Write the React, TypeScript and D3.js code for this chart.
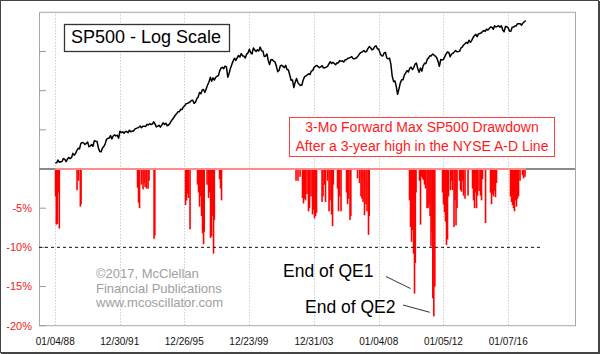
import React from "react";
import * as d3 from "d3";

const W = 600;
const H = 354;
const plot = { left: 39, right: 575, top: 12.3, bottom: 325.7 };
const FONT = "'Liberation Sans', Arial, sans-serif";

// x axis labels (dates of the dotted gridlines)
const xTickDates = [
  "1988-01-04", "1991-12-30", "1995-12-26", "1999-12-23",
  "2003-12-31", "2008-01-04", "2012-01-05", "2016-01-07",
];

// percent axis, labels only shown below zero
const pctTicks = [-20, -15, -10, -5, 0, 5, 10, 15];

// SP500, first value on 01/04/88 then month-end closes (one per month)
const spStart = "1988-01-04";
const sp500 = [
  256,
  257, 268, 259, 261, 262, 274, 272, 262, 272, 279, 274, 278,
  297, 289, 295, 310, 321, 318, 346, 351, 349, 340, 346, 353,
  329, 332, 340, 331, 361, 358, 356, 323, 306, 304, 322, 330,
  344, 367, 375, 375, 390, 371, 388, 395, 388, 392, 375, 417,
  409, 413, 404, 415, 415, 408, 424, 414, 418, 419, 431, 436,
  439, 443, 452, 440, 450, 451, 448, 464, 459, 468, 462, 466,
  482, 467, 446, 451, 457, 444, 458, 475, 463, 472, 454, 459,
  470, 487, 501, 515, 533, 545, 562, 562, 584, 582, 605, 616,
  636, 640, 646, 654, 669, 671, 640, 652, 687, 705, 757, 741,
  786, 791, 757, 801, 848, 885, 954, 899, 947, 915, 955, 970,
  980, 1049, 1102, 1112, 1091, 1134, 1121, 957, 1017, 1099, 1164, 1229,
  1280, 1238, 1286, 1335, 1302, 1373, 1329, 1320, 1283, 1363, 1389, 1469,
  1394, 1366, 1499, 1452, 1421, 1455, 1431, 1518, 1437, 1429, 1315, 1320,
  1366, 1240, 1160, 1249, 1256, 1224, 1211, 1134, 1041, 1060, 1139, 1148,
  1130, 1107, 1147, 1077, 1067, 990, 912, 916, 815, 886, 936, 880,
  856, 841, 848, 917, 964, 975, 990, 1008, 996, 1051, 1058, 1112,
  1131, 1145, 1126, 1107, 1121, 1141, 1102, 1104, 1115, 1130, 1174, 1212,
  1181, 1204, 1181, 1157, 1192, 1191, 1234, 1220, 1229, 1207, 1249, 1248,
  1280, 1281, 1295, 1311, 1270, 1270, 1277, 1304, 1336, 1378, 1401, 1418,
  1438, 1407, 1421, 1482, 1531, 1503, 1455, 1474, 1527, 1549, 1481, 1468,
  1379, 1331, 1323, 1386, 1400, 1280, 1267, 1283, 1166, 969, 896, 903,
  826, 735, 798, 873, 919, 919, 987, 1021, 1057, 1036, 1096, 1115,
  1074, 1104, 1169, 1187, 1089, 1031, 1102, 1049, 1141, 1183, 1181, 1258,
  1286, 1327, 1326, 1364, 1345, 1321, 1292, 1219, 1131, 1253, 1247, 1258,
  1312, 1366, 1408, 1398, 1310, 1362, 1379, 1407, 1441, 1412, 1416, 1426,
  1498, 1515, 1569, 1598, 1631, 1606, 1686, 1633, 1682, 1757, 1806, 1848,
  1783, 1859, 1872, 1884, 1924, 1960, 1931, 2003, 1972, 2018, 2068, 2059,
  1995, 2105, 2068, 2086, 2107, 2063, 2104, 1972, 1920, 2079, 2080, 2044,
  1940, 1932, 2060, 2065, 2097, 2099, 2174, 2171, 2168, 2126, 2199, 2239,
  2279,
];

// drawdown spikes: when (decimal year) and how deep (%)
const ddYears = [
  1988.022, 1988.072, 1988.134, 1988.195, 1988.257,
  1989.352, 1989.444, 1989.556, 1989.599,
  1993.092, 1993.154, 1993.216, 1993.34, 1993.433, 1993.494, 1993.556, 1993.649, 1993.742, 1993.803,
  1994.113, 1994.162,
  1996.06, 1996.122, 1996.184, 1996.246, 1996.339,
  1996.802, 1996.864, 1996.926, 1996.988, 1997.05, 1997.111, 1997.173, 1997.216,
  1997.39, 1997.482, 1997.544, 1997.606, 1997.668, 1997.73, 1997.791, 1997.841,
  1998.163, 1998.224, 1998.286,
  2002.893, 2003.016, 2003.14, 2003.294, 2003.356, 2003.418, 2003.48, 2003.573, 2003.665, 2003.727,
  2003.82, 2003.913, 2003.974, 2004.036, 2004.098, 2004.16,
  2004.5, 2004.562, 2004.655, 2004.716, 2004.84, 2004.933, 2004.995, 2005.087, 2005.149, 2005.199,
  2005.458, 2005.52, 2005.582, 2005.675,
  2006.015, 2006.077, 2006.139, 2006.231, 2006.281,
  2006.695, 2006.819, 2006.911, 2006.973, 2007.035, 2007.128, 2007.221, 2007.283, 2007.375, 2007.419,
  2009.91, 2009.972, 2010.034, 2010.096, 2010.158, 2010.219, 2010.269, 2010.312,
  2010.529, 2010.59, 2010.652, 2010.714, 2010.776, 2010.838, 2010.9,
  2010.992, 2011.054, 2011.116, 2011.178, 2011.24, 2011.302, 2011.351, 2011.413, 2011.475,
  2011.951, 2012.012, 2012.074, 2012.136, 2012.198, 2012.26, 2012.322,
  2012.445, 2012.507, 2012.569, 2012.662, 2012.723, 2012.785, 2012.847,
  2013.002, 2013.064, 2013.125, 2013.187, 2013.249, 2013.342, 2013.527,
  2013.806, 2013.868, 2013.929, 2013.991, 2014.053, 2014.115, 2014.208, 2014.3, 2014.362, 2014.424,
  2014.61,
  2014.919, 2014.981, 2015.042, 2015.104, 2015.166, 2015.228, 2015.29,
  2016.155, 2016.217, 2016.279, 2016.341, 2016.403, 2016.464, 2016.526, 2016.588, 2016.65, 2016.743,
  2016.897, 2016.959, 2017.052,
];
const ddValues = [
  -3.5, -7.1, -7.0, -3.0, -7.6,
  -2.7, -1.5, -4.8, -4.5,
  -2.4, -4.3, -5.0, -2.0, -2.6, -1.8, -2.3, -2.5, -2.5, -1.5,
  -8.9, -8.5,
  -4.6, -4.0, -3.2, -3.7, -7.7,
  -2.0, -3.0, -4.8, -3.5, -6.0, -8.2, -9.6, -8.0,
  -2.0, -3.7, -3.0, -8.8, -8.6, -6.0, -10.8, -6.5,
  -1.3, -2.5, -4.0,
  -1.5, -1.5, -1.0, -3.7, -4.4, -3.8, -4.0, -3.2, -5.4, -5.0,
  -3.5, -5.8, -5.2, -6.3, -6.0, -5.6,
  -4.2, -3.5, -2.0, -4.2, -1.5, -5.4, -4.0, -5.8, -7.3, -2.0,
  -2.5, -5.4, -3.5, -5.4,
  -3.0, -4.5, -3.8, -6.5, -6.0,
  -1.2, -1.8, -3.5, -3.8, -4.2, -5.9, -4.5, -5.4, -8.4, -6.0,
  -4.0, -7.4, -9.3, -7.8, -10.8, -15.9, -12.0, -3.0,
  -1.5, -7.1, -1.0, -1.2, -1.4, -2.0, -2.5,
  -5.0, -5.0, -4.5, -6.0, -9.9, -8.0, -16.5, -18.8, -15.0,
  -3.0, -4.5, -5.5, -6.7, -9.7, -9.0, -3.5,
  -2.7, -1.5, -2.7, -7.4, -4.0, -7.2, -5.0,
  -1.5, -2.7, -2.9, -1.5, -3.4, -3.8, -3.4,
  -2.5, -4.0, -5.0, -3.0, -5.0, -3.4, -2.8, -3.4, -4.0, -1.3,
  -6.9,
  -3.0, -4.5, -3.2, -3.5, -2.8, -3.6, -1.8,
  -3.5, -4.2, -4.6, -5.0, -5.4, -4.0, -4.8, -3.8, -3.5, -1.5,
  -0.8, -1.2, -1.0,
];

const parse = d3.timeParse("%Y-%m-%d");
const fmt = d3.timeFormat("%m/%d/%y");

const fromYear = (y: number) => {
  const yr = Math.floor(y);
  const a = new Date(yr, 0, 1).getTime();
  const b = new Date(yr + 1, 0, 1).getTime();
  return new Date(a + (y - yr) * (b - a));
};

const App: React.FC = () => {
  const x = d3
    .scaleTime()
    .domain([fromYear(1987.0), fromYear(2020.143)])
    .range([plot.left, plot.right]);

  const yPct = d3.scaleLinear().domain([-20, 20]).range([plot.bottom, plot.top]);
  const y0 = yPct(0);

  const ySp = d3.scaleLog().domain([233.6, 2589.5]).range([y0, plot.top]);

  const start = parse(spStart)!;
  const spPts: [Date, number][] = sp500.map((v, i) => [d3.timeMonth.offset(start, i), v]);
  const line = d3
    .line<[Date, number]>()
    .x((d) => x(d[0]))
    .y((d) => ySp(d[1]));

  const bars = ddYears.map((yr, i) => ({ date: fromYear(yr), v: ddValues[i] }));
  const dataStart = x(start);
  const dataEnd = x(spPts[spPts.length - 1][0]);

  // spikes the notes point at
  const qe1 = bars[ddValues.indexOf(-15.9)];
  const qe2 = bars[ddValues.indexOf(-18.8)];

  return (
    <svg width={W} height={H} style={{ display: "block", background: "white" }} fontFamily={FONT}>
      <style>{`body{margin:0}`}</style>
      {/* outer frame */}
      <rect x={0.5} y={0.5} width={598} height={352} fill="white" stroke="#444" />
      <line x1={599.5} y1={1} x2={599.5} y2={H} stroke="#444" />
      <line x1={1} y1={353.5} x2={W} y2={353.5} stroke="#444" />

      {/* dotted date gridlines */}
      {xTickDates.map((s) => {
        const gx = Math.round(x(parse(s)!)) + 0.5;
        return (
          <line key={s} x1={gx} x2={gx} y1={plot.top} y2={plot.bottom}
            stroke="#b8b8b8" strokeDasharray="1,2" />
        );
      })}

      {/* plot frame */}
      <rect x={plot.left + 0.5} y={plot.top} width={plot.right - plot.left} height={plot.bottom - plot.top}
        fill="none" stroke="#a8a8a8" />

      {/* y ticks + labels */}
      {pctTicks.map((t) => (
        <g key={t}>
          <line x1={plot.left} x2={plot.left + 7} y1={yPct(t)} y2={yPct(t)} stroke="#999" />
          {t < 0 && (
            <text x={32} y={yPct(t)} dy="0.35em" textAnchor="end" fontSize={11} fill="#ee2020">
              {t}%
            </text>
          )}
        </g>
      ))}

      {/* x labels */}
      {xTickDates.map((s) => (
        <text key={s} x={x(parse(s)!)} y={345} textAnchor="middle" fontSize={10} fill="#111">
          {fmt(parse(s)!)}
        </text>
      ))}

      {/* drawdown bars */}
      <g fill="#ff0000">
        {bars.map((b, i) => (
          <rect key={i} x={x(b.date) - 0.8} width={1.6} y={y0} height={yPct(b.v) - y0} />
        ))}
      </g>

      {/* -10% reference */}
      <line x1={plot.left} x2={543} y1={yPct(-10)} y2={yPct(-10)} stroke="#111" strokeDasharray="3,3" />

      {/* zero line */}
      <line x1={plot.left} x2={plot.right} y1={y0} y2={y0} stroke="#8a8a8a" strokeWidth={2} />
      <line x1={dataStart} x2={dataEnd} y1={y0} y2={y0} stroke="#ff8c8c" strokeWidth={2} />

      {/* SP500 */}
      <path d={line(spPts) ?? ""} fill="none" stroke="#000" strokeWidth={1.5} strokeLinejoin="round" />

      {/* title box */}
      <rect x={64.5} y={24.5} width={165} height={27} fill="white" stroke="#333" strokeWidth={1.3} />
      <text x={71} y={42.5} fontSize={18} fill="#000">SP500 - Log Scale</text>

      {/* red description box */}
      <rect x={289.5} y={117.5} width={265} height={39} fill="white" stroke="#ff4040" />
      <text x={422} y={132} textAnchor="middle" fontSize={14} fill="#ff1a1a">
        3-Mo Forward Max SP500 Drawdown
      </text>
      <text x={422} y={150.5} textAnchor="middle" fontSize={14} fill="#ff1a1a">
        After a 3-year high in the NYSE A-D Line
      </text>

      {/* copyright */}
      <g fontSize={13} fill="#a0a0a0">
        <text x={96} y={278}>©2017, McClellan</text>
        <text x={96} y={292.5}>Financial Publications</text>
        <text x={96} y={307}>www.mcoscillator.com</text>
      </g>

      {/* QE notes */}
      <text x={283} y={276.5} fontSize={17.5} fill="#000">End of QE1</text>
      <line x1={386} y1={276.5} x2={x(qe1.date) - 4} y2={yPct(qe1.v) - 5} stroke="#333" />
      <text x={305} y={313} fontSize={17.5} fill="#000">End of QE2</text>
      <line x1={403} y1={305} x2={x(qe2.date) - 4} y2={yPct(qe2.v) - 4} stroke="#333" />
    </svg>
  );
};

export default App;
